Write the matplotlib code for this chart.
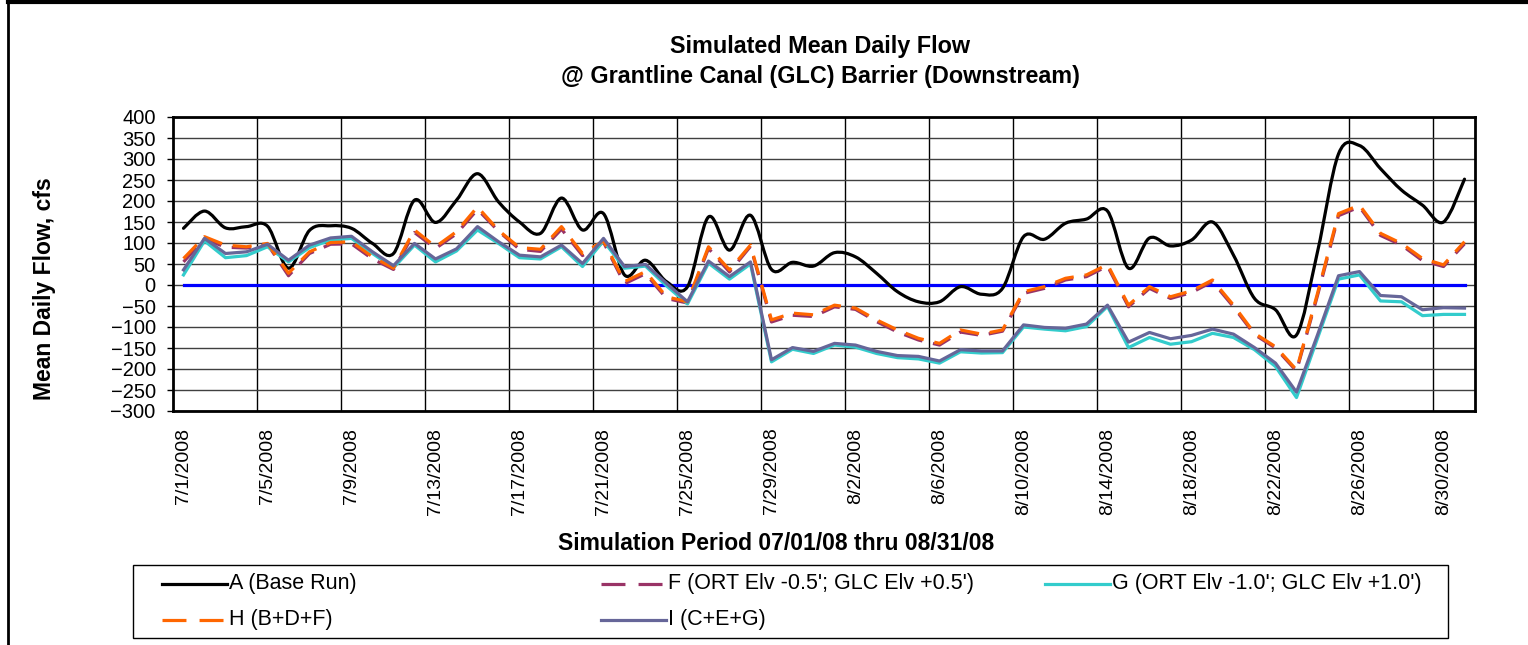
import numpy as np
import pandas as pd
import matplotlib
matplotlib.use('Agg')
import matplotlib.pyplot as plt
from matplotlib.path import Path
from matplotlib.patches import PathPatch, Rectangle
from matplotlib.lines import Line2D

plt.rcParams['font.family'] = ['Liberation Sans', 'DejaVu Sans']

# daily dates, 7/1/2008 - 8/31/2008
dates = pd.date_range('2008-07-01', '2008-08-31', freq='D')
date_labels = [f"{d.month}/{d.day}/{d.year}" for d in dates]

# mean daily flow (cfs)
flow_A = [135, 176, 136, 139, 140, 40, 130, 141, 135, 99,
          75, 202, 149, 202, 265, 198, 150, 123, 207, 131,
          170, 24, 59, 8, -4, 162, 83, 166, 37, 54,
          45, 77, 67, 28, -16, -40, -40, -4, -22, -8,
          115, 109, 147, 157, 176, 40, 112, 93, 107, 150,
          71, -32, -59, -119, 79, 312, 332, 277, 226, 190,
          150, 252]
flow_F = [55, 110, 90, 88, 97, 22, 75, 97, 98, 62,
          37, 125, 87, 122, 180, 128, 85, 80, 133, 70,
          102, 3, 27, -32, -43, 87, 31, 92, -88, -72,
          -75, -52, -58, -87, -112, -131, -143, -112, -120, -110,
          -20, -8, 12, 20, 45, -52, -8, -32, -18, 8,
          -52, -118, -150, -205, -25, 165, 186, 118, 95, 58,
          44, 98]
flow_G = [24, 105, 65, 70, 91, 55, 89, 107, 111, 75,
          41, 95, 55, 81, 131, 99, 65, 62, 91, 44,
          105, 40, 45, -2, -45, 52, 14, 50, -183, -153,
          -163, -143, -148, -163, -173, -176, -186, -159, -162, -161,
          -100, -105, -109, -99, -51, -149, -125, -141, -135, -115,
          -125, -154, -194, -268, -127, 14, 24, -38, -40, -73,
          -70, -70]
flow_H = [63, 115, 95, 91, 99, 28, 79, 101, 103, 67,
          40, 131, 91, 127, 186, 130, 89, 85, 139, 75,
          105, 8, 32, -28, -40, 91, 36, 95, -83, -67,
          -71, -48, -55, -83, -107, -127, -139, -107, -117, -107,
          -16, -4, 16, 24, 49, -48, -4, -28, -14, 12,
          -48, -115, -147, -202, -20, 170, 190, 123, 99, 63,
          48, 103]
flow_I = [36, 111, 75, 79, 97, 59, 95, 112, 116, 79,
          46, 99, 62, 86, 139, 103, 71, 67, 95, 51,
          111, 44, 49, 4, -40, 57, 20, 55, -178, -149,
          -158, -139, -143, -158, -168, -170, -181, -154, -157, -157,
          -95, -101, -103, -93, -48, -136, -113, -128, -120, -105,
          -117, -149, -186, -255, -119, 22, 32, -25, -28, -59,
          -54, -55]
zero_line = [0] * len(dates)

labels = ["A (Base Run)", "F (ORT Elv -0.5'; GLC Elv +0.5')",
          "G (ORT Elv -1.0'; GLC Elv +1.0')", "H (B+D+F)", "I (C+E+G)"]
colors = ['#000000', '#993366', '#33CCCC', '#FF6600', '#666699']

W, H = 1528, 645
fig = plt.figure(figsize=(W / 100, H / 100), dpi=100)
ax = fig.add_axes([173 / W, 1 - 411 / H, (1475 - 173) / W, (411 - 117) / H])

x = np.arange(len(dates))
lw = 2.3
dash = (6, 3.4)

ax.plot(x, zero_line, color='#0000FF', lw=2.3, zorder=2)

# smoothed base run (Excel style smooth line) via bezier path through the points
pts = np.column_stack([x, flow_A]).astype(float)
verts = [pts[0]]
codes = [Path.MOVETO]
n = len(pts)
for i in range(n - 1):
    p0 = pts[max(i - 1, 0)]
    p1 = pts[i]
    p2 = pts[i + 1]
    p3 = pts[min(i + 2, n - 1)]
    verts += [p1 + (p2 - p0) / 6, p2 - (p3 - p1) / 6, p2]
    codes += [Path.CURVE4] * 3
ax.add_patch(PathPatch(Path(verts, codes), facecolor='none', edgecolor=colors[0],
                       lw=lw, joinstyle='round', capstyle='round', zorder=3))

ax.plot(x, flow_F, color=colors[1], lw=lw, dashes=dash, zorder=4)
ax.plot(x, flow_G, color=colors[2], lw=lw, zorder=5)
ax.plot(x, flow_H, color=colors[3], lw=lw, dashes=dash, zorder=6)
ax.plot(x, flow_I, color=colors[4], lw=lw, zorder=7)

ax.set_xlim(-0.5, len(dates) - 0.5)
ax.set_ylim(-300, 400)
ax.set_yticks(np.arange(-300, 401, 50))
ax.tick_params(axis='y', direction='out', length=4.5, width=1, pad=8, labelsize=14.5)
ax.yaxis.grid(True, color='#404040', lw=1)

ax.set_xticks(x[::4])
ax.set_xticklabels(date_labels[::4], rotation=90, fontsize=14)
ax.tick_params(axis='x', length=0, pad=12)
ax.set_xticks(np.arange(3.5, len(dates) - 1, 4), minor=True)
ax.tick_params(axis='x', which='minor', length=0)
ax.xaxis.grid(True, which='minor', color='black', lw=1)
ax.set_axisbelow(True)
for s in ax.spines.values():
    s.set_linewidth(2)

fig.text(45 / W, 1 - 289 / H, 'Mean Daily Flow, cfs', rotation=90, ha='center', va='center',
         fontsize=16.5, fontweight='bold')
fig.text(776 / W, 1 - 543 / H, 'Simulation Period 07/01/08 thru 08/31/08', ha='center', va='center',
         fontsize=16.5, fontweight='bold')
fig.text(820 / W, 1 - 46 / H, 'Simulated Mean Daily Flow', ha='center', va='center',
         fontsize=16.8, fontweight='bold')
fig.text(820 / W, 1 - 77 / H, '@ Grantline Canal (GLC) Barrier (Downstream)', ha='center', va='center',
         fontsize=16.8, fontweight='bold')

# legend box laid out like Excel: three equal-width columns, two rows
fig.add_artist(Rectangle((133 / W, 1 - 638 / H), (1448 - 133) / W, 73 / H, transform=fig.transFigure,
                         facecolor='white', edgecolor='black', lw=1))
leg_order = [(0, colors[0], None), (1, colors[1], (7.5, 4.1)), (2, colors[2], None),
             (3, colors[3], (7.5, 4.1)), (4, colors[4], None)]
col_x = [162, 601, 1045]
row_y = [584, 620]
for k, (idx, c, d) in enumerate(leg_order):
    cx = col_x[k % 3]
    ry = 1 - row_y[k // 3] / H
    ln = Line2D([cx / W, (cx + 65) / W], [ry, ry], color=c, lw=lw, transform=fig.transFigure)
    if d is not None:
        ln.set_dashes(d)
    fig.add_artist(ln)
    fig.text((cx + 67) / W, ry, labels[idx], ha='left', va='center', fontsize=15.5)

# outer chart border (top and left edges visible)
fig.add_artist(Line2D([8 / W, 8 / W], [0, 1], color='black', lw=2, transform=fig.transFigure))
fig.add_artist(Line2D([8 / W, 1], [1 - 2 / H, 1 - 2 / H], color='black', lw=3,
                      transform=fig.transFigure))

fig.savefig('out.png', dpi=100)
